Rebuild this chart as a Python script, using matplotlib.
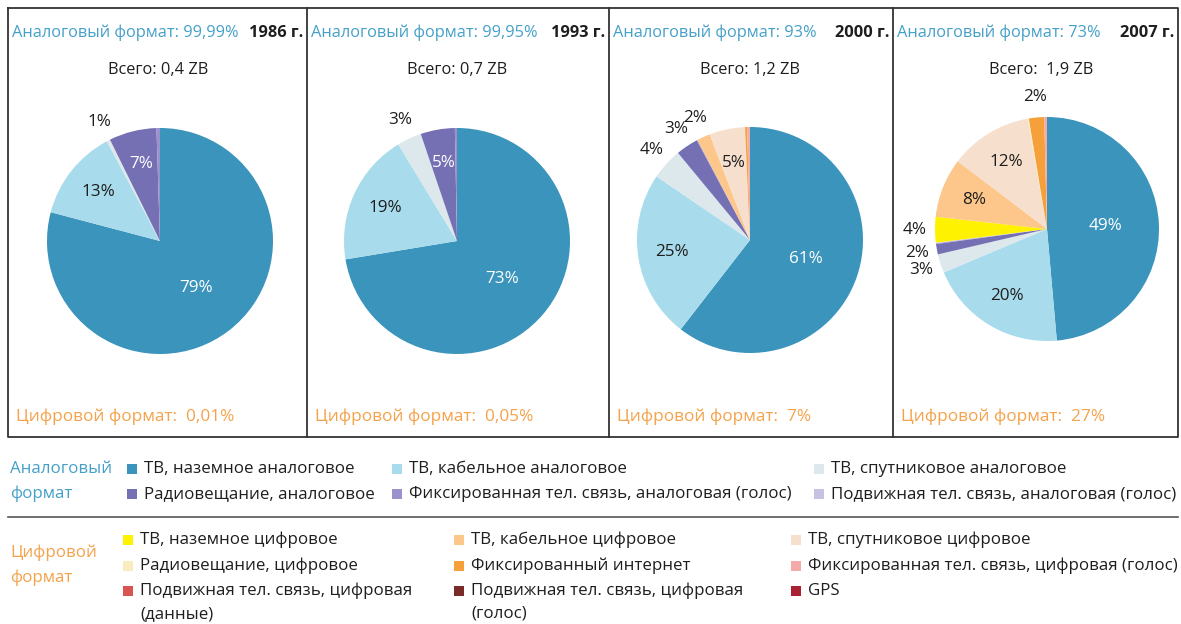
import matplotlib
matplotlib.use("Agg")
import matplotlib.pyplot as plt
from matplotlib.patches import Rectangle
import numpy as np

plt.rcParams['font.family'] = ['Open Sans', 'DejaVu Sans']

W, H = 1181, 624

categories = [
    "ТВ, наземное аналоговое", "ТВ, кабельное аналоговое", "ТВ, спутниковое аналоговое",
    "Радиовещание, аналоговое", "Фиксированная тел. связь, аналоговая (голос)",
    "Подвижная тел. связь, аналоговая (голос)",
    "ТВ, наземное цифровое", "ТВ, кабельное цифровое", "ТВ, спутниковое цифровое",
    "Радиовещание, цифровое", "Фиксированный интернет", "Фиксированная тел. связь, цифровая (голос)",
    "Подвижная тел. связь, цифровая\n(данные)", "Подвижная тел. связь, цифровая\n(голос)", "GPS",
]
colors = [
    "#3a94bb", "#a8dbeb", "#dde8ec", "#7570b3", "#9b91cc", "#c8c2e2",
    "#fff200", "#fdc68a", "#f6e0cd", "#fbeabc", "#f5a03a", "#f5aaaa",
    "#d9534f", "#7b2a2a", "#a82232",
]
white_text = [0, 3]

years = ["1986 г.", "1993 г.", "2000 г.", "2007 г."]
analog_share = ["99,99%", "99,95%", "93%", "73%"]
digital_share = ["0,01%", "0,05%", "7%", "27%"]
totals = ["0,4 ZB", "0,7 ZB", "1,2 ZB", " 1,9 ZB"]

values_1986 = [79.1, 13.1, 0.5, 6.8, 0.5, 0, 0, 0, 0, 0, 0, 0, 0, 0, 0]
labels_1986 = ["79%", "13%", "1%", "7%"]
values_1993 = [72.4, 18.9, 3.5, 4.9, 0.3, 0, 0, 0, 0, 0, 0, 0, 0, 0, 0]
labels_1993 = ["73%", "19%", "3%", "5%"]
values_2000 = [60.5, 24.0, 4.5, 3.2, 0.1, 0, 0, 1.9, 5.1, 0, 0.3, 0.4, 0, 0, 0]
labels_2000 = ["61%", "25%", "4%", "3%", "", "", "", "2%", "5%"]
values_2007 = [48.7, 20.1, 2.7, 1.5, 0.1, 0.1, 3.7, 8.6, 11.9, 0.2, 2.2, 0.4, 0, 0, 0]
labels_2007 = ["49%", "20%", "3%", "2%", "", "", "4%", "8%", "12%", "", "2%", ""]

all_values = [values_1986, values_1993, values_2000, values_2007]
all_labels = [labels_1986, labels_1993, labels_2000, labels_2007]

# layout in pixels
panel_left = [8, 307, 609, 893]
panel_right = 1178
frame_top, frame_bottom = 8, 437
pie_centers = [(160, 241), (457, 241), (750, 240), (1047, 229)]
pie_r = [113, 113, 113, 112]
total_x = [158, 457, 750, 1041]
fs = 11.8
fs_dig = 12.4
fs_pie = 12.3
fs_leg = 12.2

BLUE = "#45a0c9"
ORANGE = "#f5a24a"
DARK = "#1e1e1e"

fig = plt.figure(figsize=(W / 100, H / 100), dpi=100)
bg = fig.add_axes([0, 0, 1, 1])
bg.set_xlim(0, W)
bg.set_ylim(H, 0)
bg.axis("off")

# frame
lc = "#333333"
bg.plot([panel_left[0], panel_right, panel_right, panel_left[0], panel_left[0]],
        [frame_top, frame_top, frame_bottom, frame_bottom, frame_top], color=lc, lw=1.3)
for x in panel_left[1:]:
    bg.plot([x, x], [frame_top, frame_bottom], color=lc, lw=1.3)

for i in range(4):
    left = panel_left[i]
    right = panel_left[i + 1] if i < 3 else panel_right
    bg.text(left + 4, 33, "Аналоговый формат: " + analog_share[i], color=BLUE,
            fontsize=fs, va="center", ha="left")
    bg.text(right - 4, 33, years[i], color=DARK, fontsize=fs, fontweight="bold",
            va="center", ha="right")
    bg.text(total_x[i], 70, "Всего: " + totals[i], color=DARK, fontsize=fs,
            va="center", ha="center")
    bg.text(left + 8, 417, "Цифровой формат:  " + digital_share[i], color=ORANGE,
            fontsize=fs_dig, va="center", ha="left")

    cx, cy = pie_centers[i]
    r = pie_r[i]
    s = 2 * 1.35 * r
    ax = fig.add_axes([(cx - s / 2) / W, 1 - (cy + s / 2) / H, s / W, s / H])
    vals = all_values[i]
    wedges, _ = ax.pie(vals, colors=colors, startangle=90, counterclock=False,
                       radius=1, wedgeprops=dict(linewidth=0))
    ax.set_xlim(-1.35, 1.35)
    ax.set_ylim(-1.35, 1.35)
    ax.set_aspect("equal")
    ax.axis("off")
    biggest = int(np.argmax(vals))
    for k, lab in enumerate(all_labels[i]):
        if not lab:
            continue
        w = wedges[k]
        ang = np.deg2rad((w.theta1 + w.theta2) / 2)
        if vals[k] < 4.7:
            d, col = 1.18, DARK
        else:
            d = 0.52 if k == biggest else 0.7
            col = "white" if k in white_text else DARK
        ax.text(d * np.cos(ang), d * np.sin(ang), lab, color=col, fontsize=fs_pie,
                ha="center", va="center")

# legend
sq = 10
bg.text(10, 469, "Аналоговый", color=BLUE, fontsize=fs_leg, va="center")
bg.text(10, 494, "формат", color=BLUE, fontsize=fs_leg, va="center")
bg.text(10, 553, "Цифровой", color=ORANGE, fontsize=fs_leg, va="center")
bg.text(10, 578, "формат", color=ORANGE, fontsize=fs_leg, va="center")
bg.plot([8, 1178], [517, 517], color="#555555", lw=1.2)

analog_cols = [127, 392, 814]
analog_rows = [469, 494]
digital_cols = [123, 454, 791]
digital_rows = [540, 566, 591]


def legend_item(x, y, k):
    bg.add_patch(Rectangle((x, y - sq / 2), sq, sq, color=colors[k], lw=0))
    for j, line in enumerate(categories[k].split("\n")):
        bg.text(x + sq + 7, y + j * 23, line, color=DARK, fontsize=fs_leg, va="center")


for k in range(6):
    legend_item(analog_cols[k % 3], analog_rows[k // 3], k)
for k in range(9):
    legend_item(digital_cols[k % 3], digital_rows[k // 3], 6 + k)

fig.savefig("out.png", dpi=100)
